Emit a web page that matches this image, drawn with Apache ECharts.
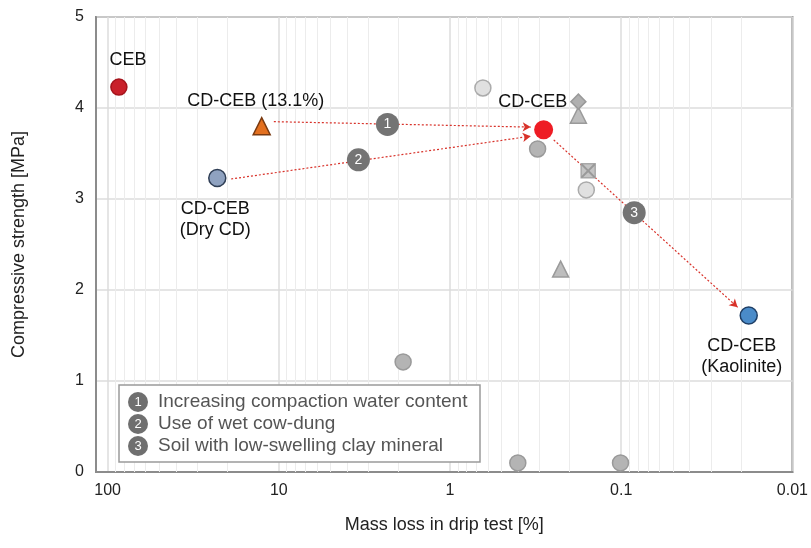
<!DOCTYPE html>
<html>
<head>
<meta charset="utf-8">
<script src="https://cdn.jsdelivr.net/npm/echarts@6/dist/echarts.min.js"></script>
<style>
  html, body { margin: 0; padding: 0; background: #fff; }
  #main { width: 811px; height: 548px; }
</style>
</head>
<body>
<div id="main"></div>
<script>
// ---- data ----
var cebPoint = [[86, 4.23]];
var cdWetPoint = [[12.6, 3.80]];        // CD-CEB (13.1%)
var cdDryPoint = [[22.9, 3.23]];        // CD-CEB (Dry CD)
var cdPoint = [[0.284, 3.76]];          // CD-CEB
var kaoPoint = [[0.018, 1.72]];         // CD-CEB (Kaolinite)

var greyCircles = [[0.308, 3.55], [1.88, 1.21], [0.402, 0.1], [0.101, 0.1]];
var lightCircles = [[0.643, 4.22], [0.160, 3.10]];
var greyTriangles = [[0.178, 3.92], [0.226, 2.23]];
var greyDiamonds = [[0.178, 4.07]];
var greyCrossSquares = [[0.156, 3.31]];

// numbered badges sitting on the arrows
var badges = [[2.32, 3.82, '1'], [3.43, 3.43, '2'], [0.084, 2.85, '3']];

// arrows: [from, to]
var arrows = [
  [[10.7, 3.85], [0.338, 3.79]],
  [[19.0, 3.22], [0.338, 3.69]],
  [[0.248, 3.65], [0.0209, 1.81]]
];

var legendItems = ['Increasing compaction water content', 'Use of wet cow-dung', 'Soil with low-swelling clay mineral'];

var xTicks = [0.01, 0.1, 1, 10, 100];
var xLeftEnd = 117;   // axis runs a bit past 100 on the left
var yTicks = [0, 1, 2, 3, 4, 5];

// minor vertical grid lines (2..9 of each decade)
var minorX = [];
for (var d = 0; d < xTicks.length - 1; d++) {
  for (var k = 2; k <= 9; k++) minorX.push({ xAxis: +(xTicks[d] * k).toPrecision(3) });
}

var myChart = echarts.init(document.getElementById('main'));

var FONT = 'Liberation Sans, Arial, sans-serif';
var labelFont = { color: '#111', fontSize: 18, fontFamily: FONT };

function pointSeries(name, data, symbol, size, fill, border, label) {
  return {
    name: name,
    type: 'scatter',
    data: data,
    symbol: symbol,
    symbolSize: size,
    z: 5,
    itemStyle: { color: fill, borderColor: border, borderWidth: border ? 1.5 : 0, opacity: 1 },
    label: label ? Object.assign({ show: true, formatter: label.text, position: 'inside', offset: label.offset, lineHeight: 21 }, labelFont) : { show: false }
  };
}

var option = {
  animation: false,
  grid: { left: 96, right: 15, top: 17, bottom: 76, show: true, borderColor: '#8c8c8c', borderWidth: 2, backgroundColor: 'transparent' },
  xAxis: {
    type: 'log',
    logBase: 10,
    min: xTicks[0],
    max: xLeftEnd,
    inverse: true,
    name: 'Mass loss in drip test [%]',
    nameLocation: 'middle',
    nameGap: 44,
    nameTextStyle: { color: '#222', fontSize: 18, fontFamily: FONT },
    axisLine: { show: true, lineStyle: { color: '#8c8c8c', width: 2 } },
    axisTick: { show: false },
    axisLabel: {
      color: '#222', fontSize: 16, margin: 11, fontFamily: FONT,
      formatter: function (v) {
        var r = +(+v).toPrecision(3);
        return xTicks.indexOf(r) >= 0 ? String(r) : '';
      }
    },
    splitLine: { show: true, lineStyle: { color: '#dcdcdc', width: 1.5 } }
  },
  yAxis: {
    type: 'value',
    min: yTicks[0],
    max: yTicks[yTicks.length - 1],
    interval: 1,
    name: 'Compressive strength [MPa]',
    nameLocation: 'middle',
    nameGap: 68,
    nameTextStyle: { color: '#222', fontSize: 18, fontFamily: FONT },
    axisLine: { show: true, lineStyle: { color: '#8c8c8c', width: 2 } },
    axisTick: { show: false },
    axisLabel: { color: '#222', fontSize: 16, margin: 12, fontFamily: FONT },
    splitLine: { show: true, lineStyle: { color: '#dcdcdc', width: 1.5 } }
  },
  series: [
    {
      name: 'minor grid',
      type: 'scatter',
      data: [],
      silent: true,
      markLine: {
        silent: true,
        symbol: 'none',
        label: { show: false },
        lineStyle: { color: '#ececec', width: 1, type: 'solid' },
        data: minorX
      }
    },
    pointSeries('grey', greyCircles, 'circle', 16, '#b4b4b4', '#9a9a9a'),
    pointSeries('light', lightCircles, 'circle', 16, '#e0e0e0', '#ababab'),
    pointSeries('tri', greyTriangles, 'triangle', 16, '#bdbdbd', '#9a9a9a'),
    pointSeries('dia', greyDiamonds, 'diamond', 15, '#b0b0b0', '#9a9a9a'),
    pointSeries('sq', greyCrossSquares, 'path://M0,0H10V10H0Z', 14, '#c4c4c4', '#a8a8a8'),
    pointSeries('sqx', greyCrossSquares, 'path://M0,0L1,0L5,4L9,0L10,0L10,1L6,5L10,9L10,10L9,10L5,6L1,10L0,10L0,9L4,5L0,1Z', 14, '#999', null),
    {
      name: 'arrows',
      type: 'scatter',
      data: [],
      markLine: {
        silent: true,
        symbol: ['none', 'arrow'],
        symbolSize: [7, 8],
        label: { show: false },
        lineStyle: { color: '#d8322a', width: 1.2, type: [2, 2] },
        data: arrows.map(function (a) { return [{ coord: a[0] }, { coord: a[1] }]; })
      },
      z: 6
    },
    pointSeries('CEB', cebPoint, 'circle', 16, '#c9202a', '#a5141c', { text: 'CEB', offset: [9, -27] }),
    pointSeries('CD-CEB (13.1%)', cdWetPoint, 'triangle', 17, '#e3701f', '#7a3a10', { text: 'CD-CEB (13.1%)', offset: [-6, -25] }),
    pointSeries('CD-CEB (Dry CD)', cdDryPoint, 'circle', 17, '#8fa2c0', '#2f3e55', { text: 'CD-CEB\n(Dry CD)', offset: [-2, 41] }),
    pointSeries('CD-CEB', cdPoint, 'circle', 19, '#ee1c24', null, { text: 'CD-CEB', offset: [-11, -28] }),
    pointSeries('CD-CEB (Kaolinite)', kaoPoint, 'circle', 17, '#4a8bc9', '#1f3f66', { text: 'CD-CEB\n(Kaolinite)', offset: [-7, 41] }),
    {
      name: 'badges',
      type: 'scatter',
      data: badges.map(function (b) { return { value: [b[0], b[1]], name: b[2] }; }),
      symbol: 'circle',
      symbolSize: 23,
      z: 8,
      itemStyle: { color: '#747474', opacity: 1 },
      label: { show: true, position: 'inside', formatter: '{b}', color: '#fff', fontSize: 14, fontFamily: FONT }
    }
  ],
  graphic: [
    {
      type: 'rect',
      shape: { x: 119, y: 385, width: 361, height: 77 },
      style: { fill: '#fff', stroke: '#9a9a9a', lineWidth: 1.5 },
      z: 100
    }
  ].concat(legendItems.map(function (t, i) {
    return {
      type: 'group', z: 101,
      children: [
        { type: 'circle', shape: { cx: 138, cy: 402 + i * 22, r: 10 }, style: { fill: '#6f6f6f' }, z: 101 },
        { type: 'text', x: 138, y: 402 + i * 22, style: { text: String(i + 1), fill: '#fff', fontSize: 13, align: 'center', verticalAlign: 'middle', fontFamily: FONT }, z: 102 },
        { type: 'text', x: 158, y: 402 + i * 22, style: { text: t, fill: '#555', fontSize: 19, align: 'left', verticalAlign: 'middle', fontFamily: FONT }, z: 102 }
      ]
    };
  }))
};

myChart.setOption(option);
</script>
</body>
</html>
